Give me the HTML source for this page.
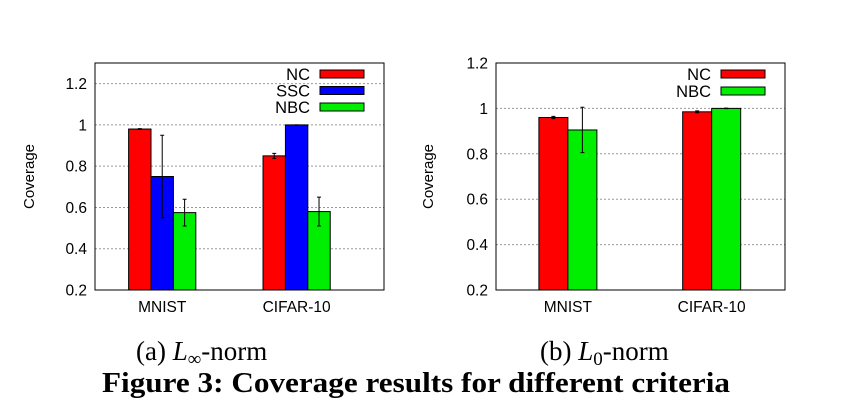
<!DOCTYPE html>
<html><head><meta charset="utf-8"><style>
body{margin:0;background:#fff;}
svg{display:block;}
</style></head><body>
<svg id="fig" width="849" height="417" xmlns="http://www.w3.org/2000/svg">
<text x="136" y="360" font-family="Liberation Serif, serif" font-size="27">(a) <tspan font-style="italic">L</tspan><tspan font-size="19" dy="5">∞</tspan><tspan dy="-5">-norm</tspan></text>
<text x="540" y="360" font-family="Liberation Serif, serif" font-size="27">(b) <tspan font-style="italic">L</tspan><tspan font-size="19" dy="5">0</tspan><tspan dy="-5">-norm</tspan></text>
<text x="102" y="392" font-family="Liberation Serif, serif" font-size="29" font-weight="bold" textLength="628" lengthAdjust="spacingAndGlyphs">Figure 3: Coverage results for different criteria</text>
</svg>
<script>
const catsA = ["MNIST","CIFAR-10"];
const seriesA = ["NC","SSC","NBC"];
const valsA_NC = [0.98, 0.85];
const valsA_SSC = [0.75, 1.0];
const valsA_NBC = [0.575, 0.58];
const errA_NC = [0.002, 0.012];
const errA_SSC = [0.2, 0.0];
const errA_NBC = [0.065, 0.07];
const ticksA = [0.2,0.4,0.6,0.8,1,1.2];
const tickLabelsA = ["0.2","0.4","0.6","0.8","1","1.2"];

const catsB = ["MNIST","CIFAR-10"];
const seriesB = ["NC","NBC"];
const valsB_NC = [0.96, 0.985];
const valsB_NBC = [0.905, 1.0];
const errB_NC = [0.005, 0.004];
const errB_NBC = [0.1, 0.001];
const ticksB = [0.2,0.4,0.6,0.8,1,1.2];
const tickLabelsB = ["0.2","0.4","0.6","0.8","1","1.2"];

const colors = {NC:"#ff0000",SSC:"#0000ff",NBC:"#00ee00"};
const NS="http://www.w3.org/2000/svg";
const svg=document.getElementById('fig');
function mk(tag,attrs,parent){const e=document.createElementNS(NS,tag);for(const k in attrs)e.setAttribute(k,attrs[k]);(parent||svg).appendChild(e);return e;}

function chart(o){
  const g=mk('g',{});
  
  
  const y=v=>o.y1-(v-o.ymin)/(o.ymax-o.ymin)*(o.y1-o.y0);
  const x=v=>o.x0+(v-o.xmin)/(o.xmax-o.xmin)*(o.x1-o.x0);
  o.ticks.forEach((t,i)=>{
    const yy=y(t);
    if(i>0){const gl=mk('line',{x1:o.x0,x2:o.x1,y1:yy,y2:yy,stroke:'#999','stroke-width':1,'stroke-dasharray':'2,2'},g);
    
    }
    const tl=mk('text',{x:o.x0-8,y:yy+5.5,'text-anchor':'end','font-family':'Liberation Sans, sans-serif','font-size':15.5},g);
    tl.textContent=o.tickLabels[i];
    
    
  });
  const n=o.series.length;
  o.cats.forEach((c,ci)=>{
    o.series.forEach((s,si)=>{
      const v=o.vals[si][ci], e=o.errs[si][ci];
      const bx=x(ci)+(si-n/2)*o.bw;
      const r=mk('rect',{x:bx,y:y(v),width:o.bw,height:y(o.ymin)-y(v),fill:colors[s],stroke:'#000','stroke-width':1},g);
      
      
      const cx=bx+o.bw/2;
      const eb=mk('path',{d:`M${cx},${y(v-e)}V${y(v+e)}M${cx-2},${y(v-e)}h4M${cx-2},${y(v+e)}h4`,stroke:'#000','stroke-width':1,fill:'none'},g);
      
      
    });
    const xl=mk('text',{x:x(ci),y:o.y1+22,'text-anchor':'middle','font-family':'Liberation Sans, sans-serif','font-size':15.5},g);
    xl.textContent=c;
    
    
  });
  const fr=mk('rect',{x:o.x0,y:o.y0,width:o.x1-o.x0,height:o.y1-o.y0,fill:'none',stroke:'#000','stroke-width':1},g);
  
  
  const yt=mk('text',{x:0,y:0,transform:`translate(${o.ytx},${(o.y0+o.y1)/2}) rotate(-90)`,'text-anchor':'middle','font-family':'Liberation Sans, sans-serif','font-size':15},g);
  yt.textContent='Coverage';
  
  
  o.series.forEach((s,si)=>{
    const ly=o.ly+si*o.lstep;
    const lt=mk('text',{x:o.lx,y:ly+6,'text-anchor':'end','font-family':'Liberation Sans, sans-serif','font-size':16.5},g);
    lt.textContent=s;
    
    
    const sw=mk('rect',{x:o.lx+10,y:ly-4,width:44,height:8,fill:colors[s],stroke:'#000','stroke-width':1},g);
    
    
  });
}
chart({name:'chart-linf',x0:95,x1:384,y0:63,y1:290,ymin:0.2,ymax:1.3,xmin:-0.5,xmax:1.65,bw:22.4,
  cats:catsA,series:seriesA,vals:[valsA_NC,valsA_SSC,valsA_NBC],errs:[errA_NC,errA_SSC,errA_NBC],
  ticks:ticksA,tickLabels:tickLabelsA,ytx:34,lx:310,ly:74,lstep:16.5});
chart({name:'chart-l0',x0:496,x1:785,y0:63,y1:290,ymin:0.2,ymax:1.2,xmin:-0.5,xmax:1.51,bw:29,
  cats:catsB,series:seriesB,vals:[valsB_NC,valsB_NBC],errs:[errB_NC,errB_NBC],
  ticks:ticksB,tickLabels:tickLabelsB,ytx:433,lx:711,ly:74,lstep:17});
</script>
</body></html>
